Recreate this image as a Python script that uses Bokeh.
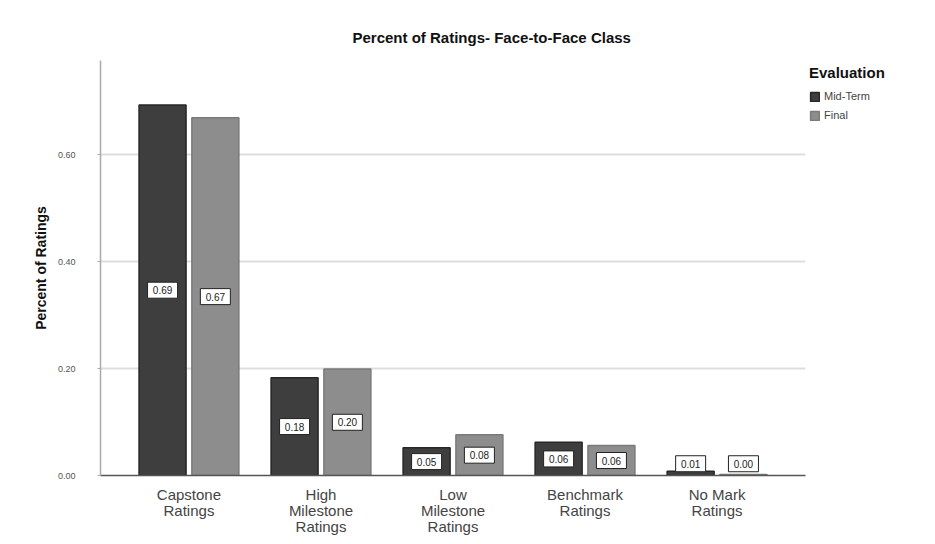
from bokeh.plotting import figure
from bokeh.models import (ColumnDataSource, Range1d, FixedTicker, Legend, LegendItem,
                          Title, NumeralTickFormatter)
from bokeh.core.properties import value
from bokeh.embed import file_html
from bokeh.resources import INLINE

categories = ["Capstone\nRatings", "High\nMilestone\nRatings", "Low\nMilestone\nRatings",
              "Benchmark\nRatings", "No Mark\nRatings"]
series = ["Mid-Term", "Final"]
mid_term = [0.693, 0.183, 0.052, 0.062, 0.008]
final = [0.669, 0.199, 0.076, 0.056, 0.002]
y_ticks = [0.0, 0.2, 0.4, 0.6]

FONT = "Liberation Sans"
colors = {"Mid-Term": "#3e3e3e", "Final": "#8d8d8d"}
edges = {"Mid-Term": "#262626", "Final": "#7a7a7a"}
offsets = {"Mid-Term": -0.2, "Final": 0.2}

p = figure(frame_width=705, frame_height=415, output_backend="svg", toolbar_location=None,
           x_range=Range1d(-0.67, 4.67), y_range=Range1d(0, 0.776),
           min_border_left=100, min_border_right=130, min_border_top=60,
           min_border_bottom=69, outline_line_color=None)
p.background_fill_color = "white"
p.border_fill_color = "white"

renderers = {}
for s, vals in (("Mid-Term", mid_term), ("Final", final)):
    xs = [i + offsets[s] for i in range(len(categories))]
    src = ColumnDataSource(dict(
        x=xs, top=vals,
        ly=[max(v / 2, 0.022) for v in vals],
        lab=[f"{v:.2f}" for v in vals]))
    r = p.vbar(x="x", top="top", width=0.356, source=src, fill_color=colors[s],
               line_color=edges[s], line_width=1.5)
    renderers[s] = r
    p.rect(x="x", y="ly", width=30, height=16, width_units="screen",
           height_units="screen", source=src, fill_color="white",
           line_color="#222222", line_width=1)
    p.text(x="x", y="ly", text="lab", source=src, text_align="center",
           text_baseline="middle", text_font=value(FONT), text_font_size="10px",
           text_color="#222222")

# axes
p.xaxis.ticker = FixedTicker(ticks=list(range(len(categories))))
p.xaxis.major_label_overrides = {i: c for i, c in enumerate(categories)}
p.xaxis.major_label_text_font = FONT
p.xaxis.major_label_text_font_size = "15px"
p.xaxis.major_label_text_line_height = 0.95
p.xaxis.major_label_text_color = "#444444"
p.xaxis.major_label_standoff = 4
p.xaxis.major_tick_line_color = None
p.xaxis.minor_tick_line_color = None
p.xaxis.axis_line_color = "#555555"
p.xaxis.axis_line_width = 1.5

p.yaxis.ticker = FixedTicker(ticks=y_ticks)
p.yaxis.formatter = NumeralTickFormatter(format="0.00")
p.yaxis.major_label_text_font = FONT
p.yaxis.major_label_text_font_size = "9px"
p.yaxis.major_label_text_color = "#555555"
p.yaxis.major_label_standoff = 22
p.yaxis.major_tick_out = 3
p.yaxis.major_tick_in = 0
p.yaxis.major_tick_line_color = "#aaaaaa"
p.yaxis.minor_tick_line_color = None
p.yaxis.axis_line_color = "#aaaaaa"
p.yaxis.axis_line_width = 1.5
p.yaxis.axis_label = "Percent of Ratings"
p.yaxis.axis_label_text_font = FONT
p.yaxis.axis_label_text_font_size = "14px"
p.yaxis.axis_label_text_font_style = "bold"
p.yaxis.axis_label_text_color = "#111111"
p.yaxis.axis_label_standoff = 6

p.xgrid.grid_line_color = None
p.ygrid.grid_line_color = "#dddddd"
p.ygrid.grid_line_width = 2
p.ygrid.level = "underlay"

# title
p.add_layout(Title(text="Percent of Ratings- Face-to-Face Class", align="left",
                   offset=252, standoff=30, text_font=FONT, text_font_size="15px",
                   text_font_style="bold", text_color="#111111"), "above")

legend = Legend(items=[LegendItem(label=s, renderers=[renderers[s]]) for s in series],
                title="Evaluation", location="top_left",
                title_text_font=FONT, title_text_font_size="15px",
                title_text_font_style="bold", title_text_color="#111111",
                title_standoff=8,
                label_text_font=FONT, label_text_font_size="11px",
                label_text_color="#444444", glyph_width=11, glyph_height=11,
                label_height=14, label_standoff=4, spacing=5, padding=4, margin=4,
                border_line_color=None, background_fill_alpha=0)
p.add_layout(legend, "right")

open("out.html", "w").write(file_html(p, INLINE))
